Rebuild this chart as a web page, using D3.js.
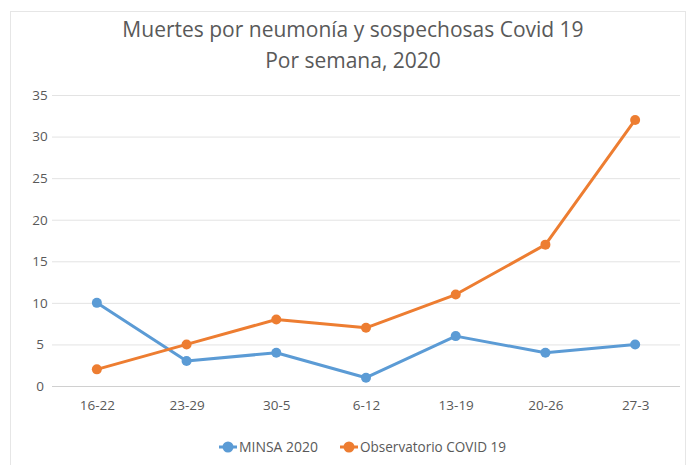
<!DOCTYPE html>
<html>
<head>
<meta charset="utf-8">
<script src="https://cdn.jsdelivr.net/npm/d3@7"></script>
<style>
  body { margin: 0; background: #fff; }
  text { font-family: "Open Sans", sans-serif; fill: #595959; }
</style>
</head>
<body>
<div id="chart"></div>
<script>
var weeks = ["16-22", "23-29", "30-5", "6-12", "13-19", "20-26", "27-3"];
var minsa = [10, 3, 4, 1, 6, 4, 5];
var observatorio = [2, 5, 8, 7, 11, 17, 32];
var yTicks = [0, 5, 10, 15, 20, 25, 30, 35];
var seriesNames = ["MINSA 2020", "Observatorio COVID 19"];
var colors = ["#5B9BD5", "#ED7D31"];

var W = 687, H = 465;
var margin = { top: 95, right: 7, bottom: 79, left: 52 },
    width = W - margin.left - margin.right,
    height = H - margin.top - margin.bottom;

var root = d3.select("#chart").append("svg")
    .attr("width", W).attr("height", H);

// chart border
root.append("rect")
    .attr("x", 10.5).attr("y", 11.5)
    .attr("width", W - 12).attr("height", H - 10)
    .attr("fill", "none").attr("stroke", "#e6e6e6");

root.append("text").attr("x", 353).attr("y", 37)
    .attr("text-anchor", "middle").style("font-size", "21px")
    .text("Muertes por neumonía y sospechosas Covid 19");
root.append("text").attr("x", 353).attr("y", 68)
    .attr("text-anchor", "middle").style("font-size", "21px")
    .text("Por semana, 2020");

var svg = root.append("g")
    .attr("transform", "translate(" + margin.left + "," + margin.top + ")");

var x = d3.scalePoint().domain(weeks).range([0, width]).padding(0.5);
var y = d3.scaleLinear().domain([0, 35]).range([height, 0]);

// gridlines
svg.append("g")
    .selectAll("line").data(yTicks).join("line")
    .attr("x1", 0).attr("x2", width)
    .attr("y1", d => y(d) + 0.5).attr("y2", d => y(d) + 0.5)
    .attr("stroke", d => d === 0 ? "#d0d0d0" : "#e3e3e3")
    .attr("stroke-width", 1);

var yAxis = svg.append("g").call(d3.axisLeft(y).tickValues(yTicks).tickSize(0));
yAxis.select(".domain").remove();
yAxis.selectAll(".tick text").style("font-size", "13.5px")
    .attr("text-anchor", "middle").attr("x", -12);

var xAxis = svg.append("g").attr("transform", "translate(0," + height + ")")
    .call(d3.axisBottom(x).tickSize(0).tickPadding(14));
xAxis.select(".domain").remove();
xAxis.selectAll("text").style("font-size", "13.5px");

var line = d3.line().x((d, i) => x(weeks[i])).y(d => y(d));

[minsa, observatorio].forEach(function (vals, k) {
    svg.append("path").datum(vals)
        .attr("fill", "none").attr("stroke", colors[k])
        .attr("stroke-width", 3).attr("stroke-linejoin", "round")
        .attr("d", line);
    svg.append("g").selectAll("circle").data(vals).join("circle")
        .attr("cx", (d, i) => x(weeks[i])).attr("cy", d => y(d))
        .attr("r", 5).attr("fill", colors[k]);
});

// legend
var legendX = [228, 349];
var legendW = [79, 146];
seriesNames.forEach(function (name, k) {
    var g = root.append("g").attr("transform", "translate(" + legendX[k] + ",447)");
    g.append("line").attr("x1", -9).attr("x2", 9)
        .attr("stroke", colors[k]).attr("stroke-width", 3);
    g.append("circle").attr("r", 5.5).attr("fill", colors[k]);
    g.append("text").attr("x", 11).attr("y", 5)
        .style("font-size", "14px")
        .attr("textLength", legendW[k]).attr("lengthAdjust", "spacingAndGlyphs")
        .text(name);
});
</script>
</body>
</html>
